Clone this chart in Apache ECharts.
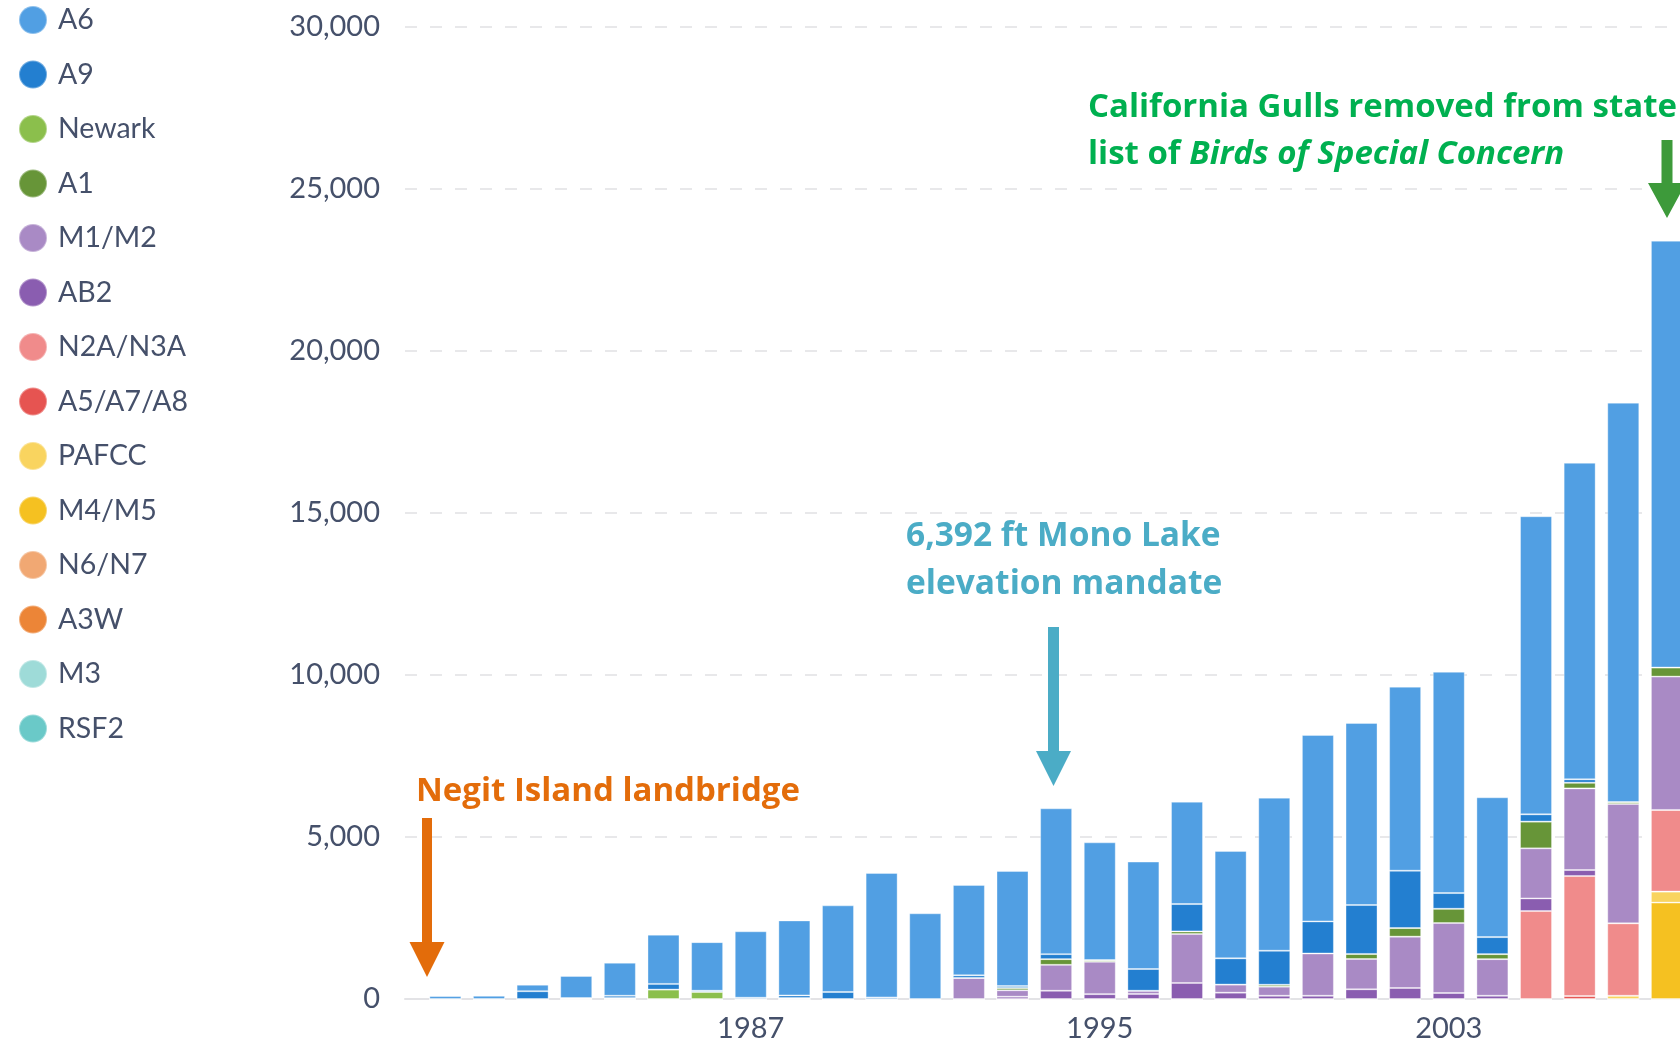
<!DOCTYPE html>
<html>
<head>
<meta charset="utf-8">
<title>California Gull nest counts, Mono Lake</title>
<script src="https://cdn.jsdelivr.net/npm/echarts@6/dist/echarts.min.js"></script>
<style>
  html, body { margin: 0; padding: 0; background: #fff; }
  #main { width: 1680px; height: 1040px; }
</style>
</head>
<body>
<div id="main"></div>
<script>
var years = [1980, 1981, 1982, 1983, 1984, 1985, 1986, 1987, 1988, 1989,
  1990, 1991, 1992, 1993, 1994, 1995, 1996, 1997, 1998, 1999,
  2000, 2001, 2002, 2003, 2004, 2005, 2006, 2007, 2008];
var yearTicks = [1987, 1995, 2003];

// colony counts per year, one array per colony group
var a6 = [90, 100, 200, 680, 1020, 1520, 1500, 2050, 2315, 2675,
  3840, 2645, 2790, 3550, 4500, 3635, 3315, 3160, 3315, 4725,
  5755, 5620, 5680, 6830, 4315, 9200, 9770, 12325, 13175];
var a9 = [0, 0, 240, 0, 70, 175, 40, 40, 80, 215,
  50, 0, 80, 60, 155, 0, 670, 845, 810, 1050,
  990, 1510, 1770, 485, 525, 225, 105, 0, 0];
var newark = [0, 0, 0, 30, 30, 290, 215, 0, 30, 0,
  0, 0, 0, 0, 0, 0, 0, 0, 0, 0,
  0, 0, 0, 0, 0, 0, 0, 0, 0];
var a1 = [0, 0, 0, 0, 0, 0, 0, 0, 0, 0,
  0, 0, 0, 70, 175, 50, 0, 80, 0, 60,
  0, 155, 265, 440, 155, 825, 175, 60, 280];
var m1m2 = [0, 0, 0, 0, 0, 0, 0, 0, 0, 0,
  0, 0, 650, 200, 800, 1000, 100, 1510, 250, 280,
  1305, 935, 1585, 2160, 1130, 1545, 2520, 3685, 4115];
var ab2 = [0, 0, 0, 0, 0, 0, 0, 0, 0, 0,
  0, 0, 0, 70, 255, 150, 155, 495, 195, 100,
  100, 300, 340, 185, 100, 390, 185, 0, 0];
var n2an3a = [0, 0, 0, 0, 0, 0, 0, 0, 0, 0,
  0, 0, 0, 0, 0, 0, 0, 0, 0, 0,
  0, 0, 0, 0, 0, 2715, 3705, 2235, 2520];
var a5a7a8 = [0, 0, 0, 0, 0, 0, 0, 0, 0, 0,
  0, 0, 0, 0, 0, 0, 0, 0, 0, 0,
  0, 0, 0, 0, 0, 0, 90, 0, 0];
var pafcc = [0, 0, 0, 0, 0, 0, 0, 0, 0, 0,
  0, 0, 0, 0, 0, 0, 0, 0, 0, 0,
  0, 0, 0, 0, 0, 0, 0, 100, 340];
var m4m5 = [0, 0, 0, 0, 0, 0, 0, 0, 0, 0,
  0, 0, 0, 0, 0, 0, 0, 0, 0, 0,
  0, 0, 0, 0, 0, 0, 0, 0, 2975];
var n6n7 = [];
var a3w = [];
var m3 = [];
var rsf2 = [];

// legend order (top to bottom); stacking goes the other way
var groups = [
  { name: 'A6', color: '#519fe3', values: a6 },
  { name: 'A9', color: '#237fd0', values: a9 },
  { name: 'Newark', color: '#8bbf4c', values: newark },
  { name: 'A1', color: '#679538', values: a1 },
  { name: 'M1/M2', color: '#a98ac5', values: m1m2 },
  { name: 'AB2', color: '#8a5db0', values: ab2 },
  { name: 'N2A/N3A', color: '#f08b8b', values: n2an3a },
  { name: 'A5/A7/A8', color: '#e65451', values: a5a7a8 },
  { name: 'PAFCC', color: '#f9d45f', values: pafcc },
  { name: 'M4/M5', color: '#f5c121', values: m4m5 },
  { name: 'N6/N7', color: '#f1a873', values: n6n7 },
  { name: 'A3W', color: '#ec8537', values: a3w },
  { name: 'M3', color: '#9edbd8', values: m3 },
  { name: 'RSF2', color: '#6ac9c8', values: rsf2 }
];

var chart = echarts.init(document.getElementById('main'), null, { renderer: 'canvas' });

// count goes first in each pair so the stack runs on the count, not the year
var series = [];
for (var i = groups.length - 1; i >= 0; i--) {
  var g = groups[i];
  var data = [];
  for (var j = 0; j < years.length; j++) {
    data.push([g.values[j] || 0, years[j]]);
  }
  series.push({
    name: g.name,
    type: 'bar',
    stack: 'total',
    barWidth: 32,
    encode: { x: 1, y: 0 },
    data: data,
    itemStyle: {
      color: g.color,
      borderColor: 'rgba(255,255,255,0.35)',
      borderWidth: 1
    },
    emphasis: { disabled: true }
  });
}

var labelFont = 'Lato, "Open Sans", sans-serif';
var noteFont = '"Open Sans", "Noto Sans", sans-serif';

var option = {
  animation: false,
  color: groups.map(function (g) { return g.color; }),
  legend: {
    orient: 'vertical',
    left: 18,
    top: 5,
    padding: 0,
    icon: 'circle',
    itemWidth: 28,
    itemHeight: 28,
    itemGap: 24.5,
    selectedMode: false,
    data: groups.map(function (g) { return g.name; }),
    textStyle: {
      fontFamily: labelFont,
      fontSize: 28.5,
      lineHeight: 28,
      color: '#45506a',
      padding: [0, 0, 0, 6]
    }
  },
  grid: {
    left: 405,
    right: 0,
    top: 27,
    bottom: 41,
    containLabel: false,
    outerBoundsMode: 'none'
  },
  xAxis: {
    type: 'value',
    min: 1979.075,
    max: 2008.3,
    splitLine: { show: false },
    axisTick: { show: false },
    axisLine: { show: true, lineStyle: { color: '#e3e3e6', width: 2 } },
    axisLabel: {
      customValues: yearTicks,
      margin: 15,
      fontFamily: labelFont,
      fontSize: 29,
      color: '#45506a',
      formatter: function (v) { return String(v); }
    }
  },
  yAxis: {
    type: 'value',
    min: 0,
    max: 30000,
    interval: 5000,
    axisLine: { show: false },
    axisTick: { show: false },
    splitLine: {
      lineStyle: { color: '#e8e8ea', width: 2, type: [12, 13] }
    },
    axisLabel: {
      margin: 25,
      fontFamily: labelFont,
      fontSize: 29,
      color: '#45506a',
      formatter: function (v) { return v.toLocaleString('en-US'); }
    }
  },
  series: series,
  graphic: {
    elements: [
      {
        type: 'text',
        x: 416,
        y: 792,
        z: 100,
        style: {
          text: 'Negit Island landbridge',
          font: 'bold 33px ' + noteFont,
          verticalAlign: 'middle',
          fill: '#e36c0a'
        }
      },
      {
        type: 'polygon',
        z: 100,
        shape: { points: [[422, 818], [432, 818], [432, 942], [444.5, 942], [427, 977], [409.5, 942], [422, 942]] },
        style: { fill: '#e36c0a' }
      },
      {
        type: 'text',
        x: 906,
        y: 560,
        z: 100,
        style: {
          text: '6,392 ft Mono Lake\nelevation mandate',
          font: 'bold 33.5px ' + noteFont,
          lineHeight: 48,
          verticalAlign: 'middle',
          fill: '#4bacc6'
        }
      },
      {
        type: 'polygon',
        z: 100,
        shape: { points: [[1048, 627], [1059, 627], [1059, 751], [1071, 751], [1053.5, 786], [1036, 751], [1048, 751]] },
        style: { fill: '#4bacc6' }
      },
      {
        type: 'text',
        x: 1088,
        y: 131,
        z: 100,
        style: {
          text: '{a|California Gulls removed from state}\n{a|list of }{b|Birds of Special Concern}',
          verticalAlign: 'middle',
          rich: {
            a: { fontFamily: noteFont, fontWeight: 'bold', fontSize: 33, lineHeight: 47, fill: '#00b050', color: '#00b050' },
            b: { fontFamily: noteFont, fontWeight: 'bold', fontStyle: 'italic', fontSize: 33, lineHeight: 47, fill: '#00b050', color: '#00b050' }
          }
        }
      },
      {
        type: 'polygon',
        z: 100,
        shape: { points: [[1661.5, 140], [1672.5, 140], [1672.5, 183], [1686, 183], [1667, 218], [1648, 183], [1661.5, 183]] },
        style: { fill: '#3d9a3a' }
      }
    ]
  }
};

chart.setOption(option);
</script>
</body>
</html>
